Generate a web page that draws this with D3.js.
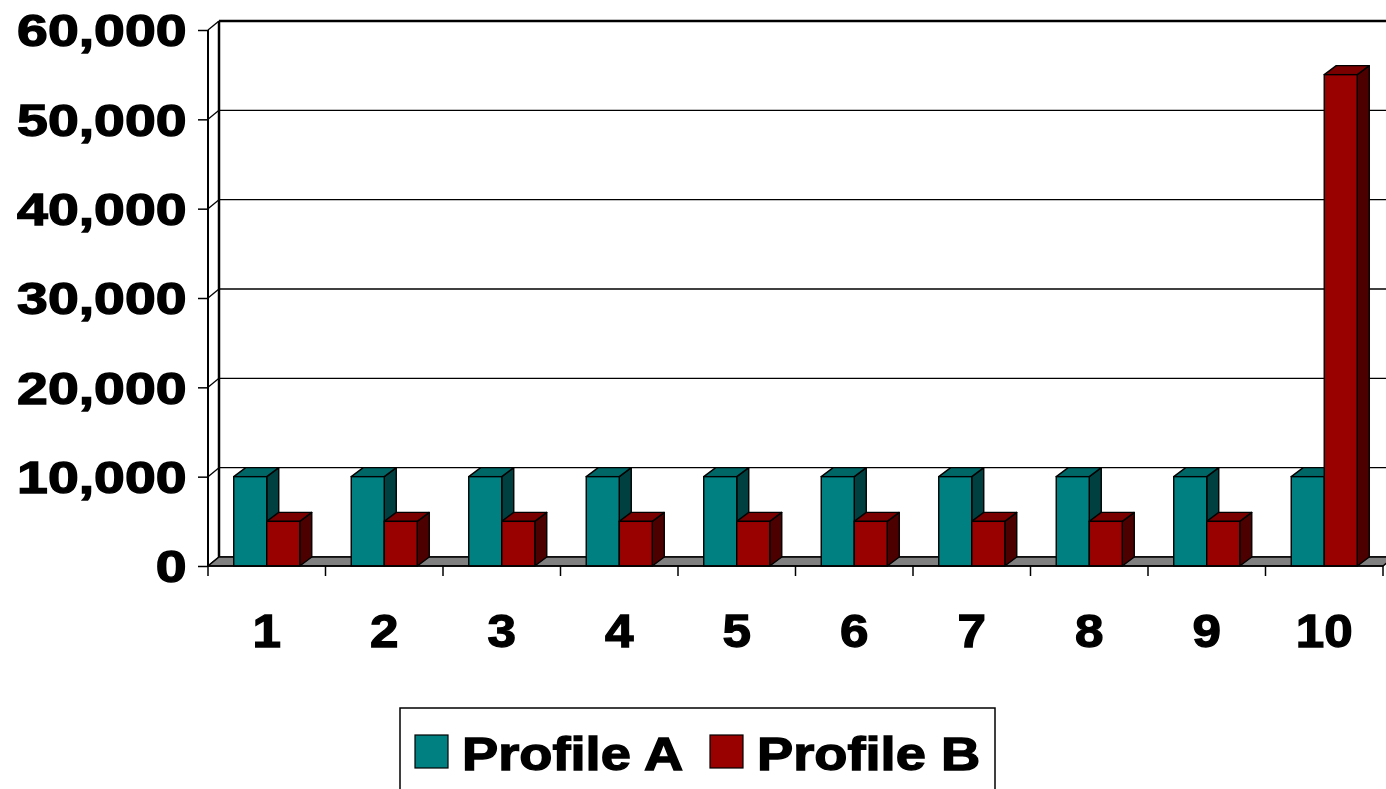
<!DOCTYPE html>
<html>
<head>
<meta charset="utf-8">
<script src="https://cdn.jsdelivr.net/npm/d3@7"></script>
<style>
  body { margin: 0; background: #fff; }
  svg { display: block; }
  text { font-family: "Liberation Sans", Arial, sans-serif; font-weight: bold; }
</style>
</head>
<body>
<div id="chart"></div>
<script>
// data
const categories = ['1', '2', '3', '4', '5', '6', '7', '8', '9', '10'];
const seriesNames = ['Profile A', 'Profile B'];
const profileA = [10000, 10000, 10000, 10000, 10000, 10000, 10000, 10000, 10000, 10000];
const profileB = [5000, 5000, 5000, 5000, 5000, 5000, 5000, 5000, 5000, 55000];
const yTicks = [0, 10000, 20000, 30000, 40000, 50000, 60000];

const colors = {
   'Profile A': { front: '#008080', top: '#006666', side: '#004040' },
   'Profile B': { front: '#990000', top: '#7a0000', side: '#4d0000' },
};

const width = 1386, height = 789;
const plot = { left: 208, right: 1383, top: 30, bottom: 566 };
const wallDx = 11, wallDy = -9;   // depth of the back wall
const barDx = 12, barDy = -9;     // depth of a bar

const svg = d3.select('#chart').append('svg')
   .attr('width', width)
   .attr('height', height);

const x0 = d3.scaleBand().domain(categories).range([plot.left, plot.right]).padding(0);
const x1 = d3.scaleBand().domain(seriesNames).range([0, x0.bandwidth()])
   .paddingInner(0).paddingOuter(0.78);
const y = d3.scaleLinear().domain([0, 60000]).range([plot.bottom, plot.top]);

// back wall with gridlines
const wall = svg.append('g').attr('class', 'wall');
yTicks.forEach((t) => {
   wall.append('line')
      .attr('x1', plot.left + wallDx).attr('x2', width + 20)
      .attr('y1', y(t) + wallDy).attr('y2', y(t) + wallDy)
      .attr('stroke', '#000').attr('stroke-width', t === 60000 ? 2.5 : 1.3);
   // side wall gridline diagonals
   wall.append('line')
      .attr('x1', plot.left).attr('y1', y(t))
      .attr('x2', plot.left + wallDx).attr('y2', y(t) + wallDy)
      .attr('stroke', '#000').attr('stroke-width', 1.3);
});
wall.append('line')
   .attr('x1', plot.left + wallDx).attr('x2', plot.left + wallDx)
   .attr('y1', y(60000) + wallDy).attr('y2', y(0) + wallDy)
   .attr('stroke', '#000').attr('stroke-width', 2.5);

// floor
svg.append('path')
   .attr('d', `M${plot.left},${y(0)} L${plot.right},${y(0)} L${plot.right + wallDx},${y(0) + wallDy} L${plot.left + wallDx},${y(0) + wallDy} Z`)
   .attr('fill', '#808080')
   .attr('stroke', '#000')
   .attr('stroke-width', 1.5);

// bars
const rows = categories.map((c, i) => ({ cat: c, values: [
   { key: 'Profile A', value: profileA[i] },
   { key: 'Profile B', value: profileB[i] },
] }));

const groups = svg.append('g').attr('class', 'bars')
   .selectAll('g')
   .data(rows)
   .join('g')
   .attr('transform', (d) => `translate(${x0(d.cat)},0)`);

const bar = groups.selectAll('g')
   .data((d) => d.values)
   .join('g');

bar.each(function (d) {
   const g = d3.select(this);
   const xa = x1(d.key), xb = xa + x1.bandwidth();
   const yt = y(d.value), yb = y(0);
   const c = colors[d.key];
   g.append('path') // side
      .attr('d', `M${xb},${yb} L${xb + barDx},${yb + barDy} L${xb + barDx},${yt + barDy} L${xb},${yt} Z`)
      .attr('fill', c.side).attr('stroke', '#000').attr('stroke-width', 1.4)
      .attr('stroke-linejoin', 'round');
   g.append('path') // top
      .attr('d', `M${xa},${yt} L${xb},${yt} L${xb + barDx},${yt + barDy} L${xa + barDx},${yt + barDy} Z`)
      .attr('fill', c.top).attr('stroke', '#000').attr('stroke-width', 1.4)
      .attr('stroke-linejoin', 'round');
   g.append('rect') // front
      .attr('x', xa).attr('y', yt)
      .attr('width', x1.bandwidth()).attr('height', yb - yt)
      .attr('fill', c.front).attr('stroke', '#000').attr('stroke-width', 1.4);
});

// y axis
const yAxisG = svg.append('g')
   .attr('transform', `translate(${plot.left},0)`)
   .call(d3.axisLeft(y).tickValues(yTicks).tickSize(10).tickPadding(7)
      .tickFormat(d3.format(',')));
yAxisG.select('.domain').attr('stroke-width', 2).attr('d', `M0,${plot.top}V${plot.bottom}`);
yAxisG.selectAll('.tick line').attr('stroke-width', 1.5);
yAxisG.selectAll('.tick text')
   .attr('font-size', 44)
   .attr('font-family', '"Liberation Sans", Arial, sans-serif')
   .attr('font-weight', 'bold')
   .attr('fill', '#000')
   .attr('stroke', '#000')
   .attr('stroke-width', 1.3)
   .attr('dy', '0.36em')
   .attr('transform', 'scale(1.26,1)');

// x axis
const xAxisG = svg.append('g')
   .attr('transform', `translate(0,${plot.bottom})`)
   .call(d3.axisBottom(x0).tickSize(0).tickPadding(0));
xAxisG.select('.domain').remove();
xAxisG.append('line')
   .attr('x1', plot.left).attr('x2', plot.right)
   .attr('stroke', '#000').attr('stroke-width', 1.5);
xAxisG.selectAll('.sep')
   .data(d3.range(categories.length + 1))
   .join('line')
   .attr('class', 'sep')
   .attr('x1', (i) => plot.left + i * x0.step()).attr('x2', (i) => plot.left + i * x0.step())
   .attr('y1', 0).attr('y2', 10)
   .attr('stroke', '#000').attr('stroke-width', 1.5);
xAxisG.selectAll('.tick text')
   .attr('font-size', 47)
   .attr('font-family', '"Liberation Sans", Arial, sans-serif')
   .attr('font-weight', 'bold')
   .attr('fill', '#000')
   .attr('stroke', '#000')
   .attr('stroke-width', 1.3)
   .attr('y', 81)
   .attr('dy', 0)
   .attr('transform', 'scale(1.09,1)')
   .attr('x', 0);

// legend
const legend = svg.append('g').attr('class', 'legend');
legend.append('rect')
   .attr('x', 400).attr('y', 708)
   .attr('width', 595).attr('height', 90)
   .attr('fill', '#fff').attr('stroke', '#000').attr('stroke-width', 1.5);
const legendX = d3.scaleOrdinal().domain(seriesNames).range([415, 710]);
const item = legend.selectAll('g.item')
   .data(seriesNames)
   .join('g')
   .attr('class', 'item')
   .attr('transform', (d) => `translate(${legendX(d)},735)`);
item.append('rect')
   .attr('width', 33).attr('height', 33)
   .attr('fill', (d) => colors[d].front)
   .attr('stroke', '#000').attr('stroke-width', 1.2);
item.append('text')
   .attr('transform', 'translate(47,35) scale(1.18,1)')
   .attr('font-size', 46)
   .attr('fill', '#000')
   .attr('stroke', '#000')
   .attr('stroke-width', 1.3)
   .text((d) => d);
</script>
</body>
</html>
